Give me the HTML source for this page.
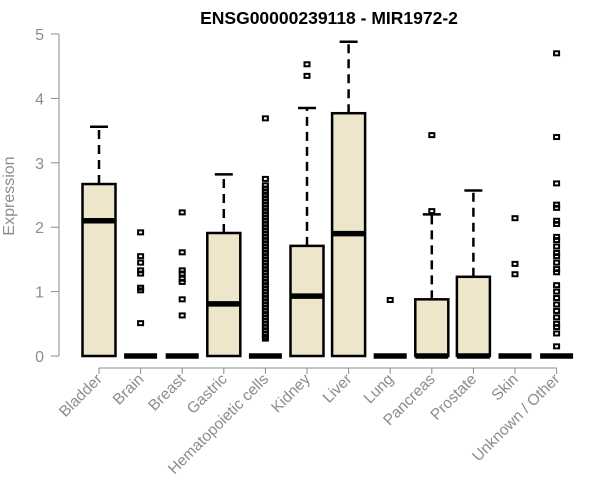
<!DOCTYPE html>
<html><head><meta charset="utf-8"><style>
body{margin:0;background:#fff;}
svg{display:block;font-family:"Liberation Sans",Arial,sans-serif;}
</style></head><body>
<svg id="chart" width="600" height="500">
<text x="329" y="24" text-anchor="middle" font-weight="bold" font-size="17.5" fill="#000">ENSG00000239118 - MIR1972-2</text>
<text transform="translate(14,196) rotate(-90)" text-anchor="middle" font-size="16" fill="#8c8c8c">Expression</text>
<g id="axes"></g><g id="marks"></g>
</svg>
<script>
const categories=["Bladder","Brain","Breast","Gastric","Hematopoietic cells","Kidney","Liver","Lung","Pancreas","Prostate","Skin","Unknown / Other"];
const q1=[0,0,0,0,0,0,0,0,0,0,0,0];
const medians=[2.1,0,0,0.81,0,0.93,1.9,0,0,0,0,0];
const q3=[2.67,0,0,1.91,0,1.71,3.77,0,0.88,1.23,0,0];
const whiskerHigh=[3.56,0,0,2.82,0,3.85,4.88,0,2.2,2.57,0,0];
const outliers=[[],
[1.92,1.55,1.45,1.33,1.28,1.06,1.02,0.51],
[2.23,1.61,1.33,1.28,1.2,1.15,0.88,0.63],
[],
[3.69,2.75,2.65,2.6,2.55,2.5,2.45,2.4,2.35,2.3,2.25,2.2,2.15,2.1,2.05,2.0,1.95,1.9,1.85,1.8,1.75,1.7,1.65,1.6,1.55,1.5,1.45,1.4,1.35,1.3,1.25,1.2,1.15,1.1,1.05,1.0,0.95,0.9,0.85,0.8,0.75,0.7,0.65,0.6,0.55,0.5,0.45,0.4,0.35,0.3,0.27],
[4.53,4.35],[],[0.87],[3.43,2.25],[],[2.14,1.43,1.27],
[4.7,3.4,2.68,2.35,2.3,2.1,2.05,1.85,1.8,1.7,1.6,1.55,1.45,1.35,1.3,1.1,1.0,0.9,0.8,0.7,0.6,0.5,0.45,0.35,0.15]];
const yTicks=[0,1,2,3,4,5];
const NS="http://www.w3.org/2000/svg";
const y=v=>356-v*64.4;
const x=i=>99+i*41.6;
function mk(t,a,p){const e=document.createElementNS(NS,t);for(const k in a)e.setAttribute(k,a[k]);p.appendChild(e);return e;}
const ax=document.getElementById('axes'),mg=document.getElementById('marks');
const yl=mk('line',{x1:59,x2:59,y1:y(0),y2:y(5),stroke:'#8c8c8c'},ax);


yTicks.forEach(t=>{
 const l=mk('line',{x1:51,x2:59,y1:y(t),y2:y(t),stroke:'#8c8c8c'},ax);
 
 
 const tx=mk('text',{x:44,y:y(t)+6,'text-anchor':'end','font-size':16,fill:'#8c8c8c'},ax);
 tx.textContent=t;
 
 
});
const xl=mk('line',{x1:x(0),x2:x(categories.length-1),y1:368,y2:368,stroke:'#8c8c8c'},ax);


const hw=16.5;
categories.forEach((c,i)=>{
 const cx=x(i);
 const tk=mk('line',{x1:cx,x2:cx,y1:368,y2:374,stroke:'#8c8c8c'},ax);
 
 
 const lb=mk('text',{transform:`translate(${cx+4},${380}) rotate(-45)`,'text-anchor':'end','font-size':15.5,fill:'#8c8c8c'},ax);
 lb.textContent=c;
 
 
 const g=mk('g',{},mg);
 
 
 if(whiskerHigh[i]>q3[i]){
  mk('line',{x1:cx,x2:cx,y1:y(q3[i]),y2:y(whiskerHigh[i]),stroke:'#000','stroke-width':2.5,'stroke-dasharray':'9,6'},g);
  mk('line',{x1:cx-9,x2:cx+9,y1:y(whiskerHigh[i]),y2:y(whiskerHigh[i]),stroke:'#000','stroke-width':2.5},g);
 }
 if(q3[i]>q1[i]) mk('rect',{x:cx-hw,y:y(q3[i]),width:hw*2,height:y(q1[i])-y(q3[i]),fill:'#ede6cb',stroke:'#000','stroke-width':2.5},g);
 mk('line',{x1:cx-hw,x2:cx+hw,y1:y(medians[i]),y2:y(medians[i]),stroke:'#000','stroke-width':5.5},g);
 outliers[i].forEach(v=>{
  const p=mk('rect',{x:cx-2.5,y:y(v)-2,width:5,height:4,fill:'none',stroke:'#000','stroke-width':2},g);
  
  
 });
});
</script>
</body></html>
